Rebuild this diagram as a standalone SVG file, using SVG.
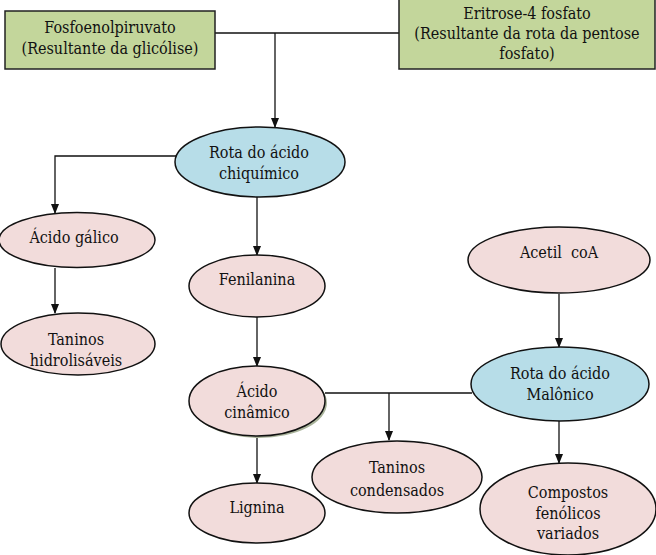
<svg xmlns="http://www.w3.org/2000/svg" width="656" height="555" viewBox="0 0 656 555">
<style>
.box{fill:#c3d69b;stroke:#222;stroke-width:1.5}
.pink{fill:#f2dcdb;stroke:#111;stroke-width:1.5}
.blue{fill:#b7dde8;stroke:#111;stroke-width:1.5}
text{font-family:'DejaVu Serif',serif;font-stretch:condensed;font-size:16px;fill:#111;text-anchor:middle}
.c{fill:none;stroke:#111;stroke-width:1.3}
</style>
<defs>
<marker id="ah" markerWidth="10" markerHeight="10" refX="9" refY="5" orient="auto" markerUnits="userSpaceOnUse">
<path d="M0,1 L10,5 L0,9 Z" fill="#111"/>
</marker>
</defs>
<rect width="656" height="555" fill="#fff"/>
<g id="connectors">
<path class="c" d="M215,33 H399"/>
<path class="c" d="M275,33 V127" marker-end="url(#ah)"/>
<path class="c" d="M178,156 H55 V213" marker-end="url(#ah)"/>
<path class="c" d="M55,268 V313" marker-end="url(#ah)"/>
<path class="c" d="M257,197 V255" marker-end="url(#ah)"/>
<path class="c" d="M257,317 V366" marker-end="url(#ah)"/>
<path class="c" d="M257,436 V483" marker-end="url(#ah)"/>
<path class="c" d="M559,294 V347" marker-end="url(#ah)"/>
<path class="c" d="M325,393 H472"/>
<path class="c" d="M389,393 V440" marker-end="url(#ah)"/>
<path class="c" d="M559,421 V463" marker-end="url(#ah)"/>
</g>
<g id="fosfoenolpiruvato">
<rect class="box" x="5" y="11" width="210" height="58"/>
<text x="110" y="33">Fosfoenolpiruvato</text>
<text x="110" y="54">(Resultante da glicólise)</text>
</g>
<g id="eritrose">
<rect class="box" x="399" y="-2" width="256" height="71"/>
<text x="527" y="19">Eritrose-4 fosfato</text>
<text x="527" y="39">(Resultante da rota da pentose</text>
<text x="527" y="59">fosfato)</text>
</g>
<g id="chiquimico">
<ellipse class="blue" cx="260" cy="162" rx="85" ry="35"/>
<text x="259" y="158">Rota do ácido</text>
<text x="259" y="179">chiquímico</text>
</g>
<g id="acido-galico">
<ellipse class="pink" cx="77" cy="240" rx="78" ry="27.5"/>
<text x="74" y="243">Ácido gálico</text>
</g>
<g id="taninos-hidrolisaveis">
<ellipse class="pink" cx="78" cy="344" rx="77" ry="31"/>
<text x="76" y="345">Taninos</text>
<text x="76" y="366">hidrolisáveis</text>
</g>
<g id="fenilanina">
<ellipse class="pink" cx="257" cy="286" rx="68" ry="31"/>
<text x="257" y="285">Fenilanina</text>
</g>
<g id="acido-cinamico">
<ellipse cx="259" cy="403" rx="68" ry="35" fill="#a9b39a"/>
<ellipse class="pink" cx="257" cy="401" rx="68" ry="35"/>
<text x="257" y="397">Ácido</text>
<text x="257" y="418">cinâmico</text>
</g>
<g id="lignina">
<ellipse class="pink" cx="257" cy="513" rx="68" ry="30"/>
<text x="257" y="513">Lignina</text>
</g>
<g id="acetil-coa">
<ellipse class="pink" cx="559" cy="260" rx="91" ry="33"/>
<text x="559" y="258" xml:space="preserve">Acetil  coA</text>
</g>
<g id="malonico">
<ellipse class="blue" cx="560" cy="384" rx="89" ry="37"/>
<text x="560" y="379">Rota do ácido</text>
<text x="560" y="400">Malônico</text>
</g>
<g id="taninos-condensados">
<ellipse class="pink" cx="397" cy="477" rx="85" ry="36"/>
<text x="397" y="473">Taninos</text>
<text x="397" y="496">condensados</text>
</g>
<g id="compostos-fenolicos">
<ellipse class="pink" cx="568" cy="509" rx="88" ry="46"/>
<text x="568" y="498">Compostos</text>
<text x="568" y="519">fenólicos</text>
<text x="568" y="539">variados</text>
</g>
</svg>
